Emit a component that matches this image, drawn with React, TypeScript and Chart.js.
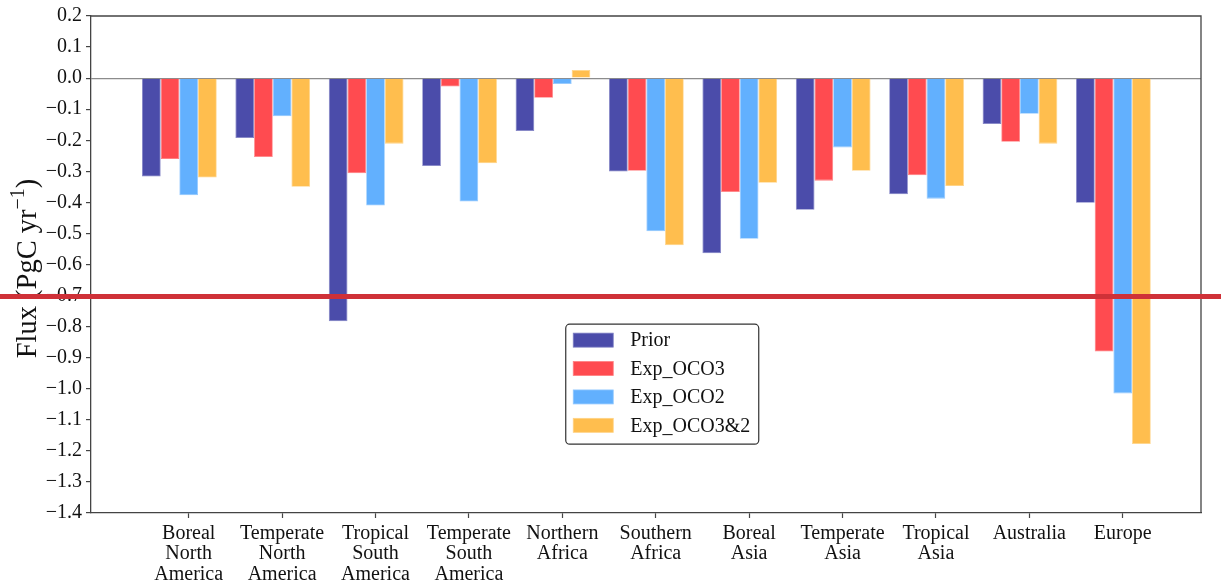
import React, { useEffect, useRef } from "react";
import { Chart, registerables } from "chart.js";

Chart.register(...registerables);

const categories: string[] = [
  "Boreal\nNorth\nAmerica",
  "Temperate\nNorth\nAmerica",
  "Tropical\nSouth\nAmerica",
  "Temperate\nSouth\nAmerica",
  "Northern\nAfrica",
  "Southern\nAfrica",
  "Boreal\nAsia",
  "Temperate\nAsia",
  "Tropical\nAsia",
  "Australia",
  "Europe",
];

const seriesNames: string[] = ["Prior", "Exp_OCO3", "Exp_OCO2", "Exp_OCO3&2"];

const prior: number[] = [-0.317, -0.193, -0.783, -0.283, -0.170, -0.301, -0.564, -0.424, -0.374, -0.148, -0.401];
const expOCO3: number[] = [-0.260, -0.254, -0.306, -0.027, -0.063, -0.298, -0.367, -0.330, -0.313, -0.205, -0.880];
const expOCO2: number[] = [-0.377, -0.123, -0.410, -0.397, -0.019, -0.493, -0.517, -0.223, -0.388, -0.115, -1.015];
const expOCO32: number[] = [-0.320, -0.350, -0.211, -0.274, 0.026, -0.538, -0.337, -0.298, -0.347, -0.211, -1.178];

const yTicks: number[] = [0.2, 0.1, 0.0, -0.1, -0.2, -0.3, -0.4, -0.5, -0.6, -0.7, -0.8, -0.9, -1.0, -1.1, -1.2, -1.3, -1.4];

const markerLevel = -0.7;

const colors = ["#4b4caa", "#ff4b50", "#62b0fe", "#ffbe4e"];
const edgeColors = ["#7f80c4", "#ff8082", "#92c8fe", "#ffd386"];

const FONT = "'Liberation Serif', 'Times New Roman', serif";

const extrasPlugin = {
  id: "extras",
  afterDraw(chart: any) {
    const ctx = chart.ctx as CanvasRenderingContext2D;
    const area = chart.chartArea;
    ctx.save();
    // top & right spines
    ctx.strokeStyle = "#444";
    ctx.lineWidth = 1.3;
    ctx.beginPath();
    ctx.moveTo(area.left, area.top);
    ctx.lineTo(area.right, area.top);
    ctx.lineTo(area.right, area.bottom);
    ctx.stroke();

    // y-axis title with superscript
    const cy = (area.top + area.bottom) / 2 + 4;
    const baseX = 36;
    const big = `28.5px ${FONT}`;
    const small = `20px ${FONT}`;
    ctx.font = big;
    const p1 = "Flux (PgC yr";
    const p3 = ")";
    const w1 = ctx.measureText(p1).width;
    const w3 = ctx.measureText(p3).width;
    ctx.font = small;
    const p2 = "\u22121";
    const w2 = ctx.measureText(p2).width;
    const total = w1 + w2 + w3;
    ctx.translate(baseX, cy);
    ctx.rotate(-Math.PI / 2);
    ctx.fillStyle = "#111";
    ctx.textBaseline = "alphabetic";
    ctx.textAlign = "left";
    let x = -total / 2;
    ctx.font = big;
    ctx.fillText(p1, x, 0);
    x += w1;
    ctx.font = small;
    ctx.fillText(p2, x, -12);
    x += w2;
    ctx.font = big;
    ctx.fillText(p3, x, 0);
    ctx.setTransform(1, 0, 0, 1, 0, 0);

    // legend
    const lw = 193;
    const lh = 120;
    const lx = area.left + 0.4277 * (area.right - area.left);
    const ly = area.top + 0.62 * (area.bottom - area.top);
    ctx.beginPath();
    (ctx as any).roundRect(lx, ly, lw, lh, 4);
    ctx.fillStyle = "rgba(255,255,255,0.9)";
    ctx.fill();
    ctx.strokeStyle = "#333";
    ctx.lineWidth = 1.2;
    ctx.stroke();
    chart.data.datasets.forEach((ds: any, i: number) => {
      const rowY = ly + 16 + i * 28.4;
      ctx.fillStyle = ds.backgroundColor;
      ctx.fillRect(lx + 7.5, rowY - 7, 40, 14);
      ctx.strokeStyle = ds.borderColor;
      ctx.lineWidth = 0.8;
      ctx.strokeRect(lx + 7.5, rowY - 7, 40, 14);
      ctx.fillStyle = "#111";
      ctx.font = `20px ${FONT}`;
      ctx.textBaseline = "middle";
      ctx.fillText(ds.label, lx + 64.5, rowY + 1);
    });

    // horizontal red marker line spanning the figure
    const my = chart.scales.y.getPixelForValue(markerLevel);
    ctx.strokeStyle = "#cf3138";
    ctx.lineWidth = 5;
    ctx.beginPath();
    ctx.moveTo(0, my + 1);
    ctx.lineTo(chart.width, my + 1);
    ctx.stroke();
    ctx.restore();
  },
};

export default function App() {
  const ref = useRef<HTMLCanvasElement | null>(null);

  useEffect(() => {
    if (!ref.current) return;
    const groupShift = -0.1;
    const series = [prior, expOCO3, expOCO2, expOCO32];
    const chart = new Chart(ref.current, {
      type: "bar",
      data: {
        datasets: series.map((vals, s) => ({
          label: seriesNames[s],
          data: vals.map((v, i) => ({ x: i + groupShift, y: v })),
          backgroundColor: colors[s],
          borderColor: edgeColors[s],
          borderWidth: 0.8,
          categoryPercentage: 0.8,
          barPercentage: 1.0,
        })),
      },
      options: {
        animation: false,
        responsive: false,
        devicePixelRatio: 1,
        layout: { padding: { left: 0, top: 15, right: 20, bottom: 0 } },
        plugins: {
          legend: { display: false },
          tooltip: { enabled: false },
          title: { display: false },
        },
        scales: {
          x: {
            type: "linear",
            offset: false,
            min: -1.046,
            max: 10.838,
            afterBuildTicks: (scale: any) => {
              scale.ticks = categories.map((_, i) => ({ value: i }));
            },
            afterFit: (scale: any) => {
              scale.height = 72;
            },
            ticks: {
              autoSkip: false,
              maxRotation: 0,
              minRotation: 0,
              padding: 5,
              color: "#111",
              font: { family: FONT, size: 20, lineHeight: 1.035 },
              callback: (value: any) => {
                const c = categories[Math.round(Number(value))];
                return c ? c.split("\n") : "";
              },
            },
            grid: {
              display: true,
              offset: false,
              drawOnChartArea: false,
              drawTicks: true,
              tickLength: 5,
              tickColor: "#444",
              tickWidth: 1.2,
            },
            border: { display: true, color: "#444", width: 1.3 },
          },
          y: {
            type: "linear",
            min: -1.4,
            max: 0.2,
            afterBuildTicks: (scale: any) => {
              scale.ticks = yTicks.map((v) => ({ value: v }));
            },
            afterFit: (scale: any) => {
              scale.width = 91;
            },
            ticks: {
              padding: 4,
              color: "#111",
              font: { family: FONT, size: 20 },
              callback: (value: any) => {
                const v = Number(value);
                const s = Math.abs(v).toFixed(1);
                return v < -1e-9 ? "\u2212" + s : s;
              },
            },
            grid: {
              display: true,
              drawOnChartArea: true,
              drawTicks: true,
              tickLength: 5,
              tickColor: "#444",
              tickWidth: 1.2,
              lineWidth: 1.2,
              color: (c: any) =>
                c.tick && Math.abs(c.tick.value) < 1e-9 ? "#8c8c8c" : "rgba(0,0,0,0)",
            },
            border: { display: true, color: "#444", width: 1.3 },
          },
        },
      },
      plugins: [extrasPlugin],
    });
    return () => chart.destroy();
  }, []);

  return (
    <div style={{ position: "absolute", left: 0, top: 0, width: 1221, height: 585, background: "#fff" }}>
      <canvas ref={ref} width={1221} height={585} style={{ display: "block" }} />
    </div>
  );
}
